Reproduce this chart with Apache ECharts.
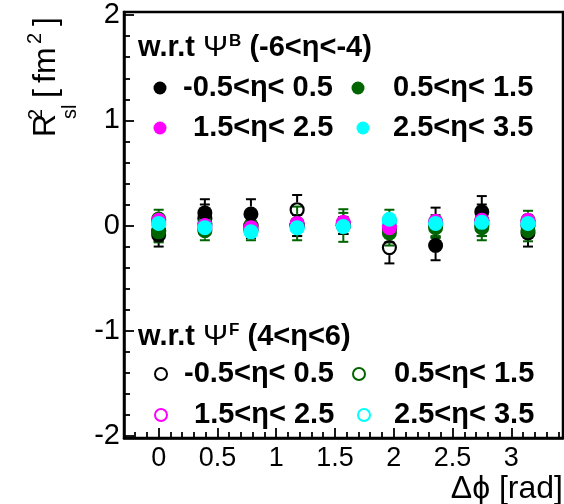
<!DOCTYPE html>
<html>
<head>
<meta charset="utf-8">
<script src="https://cdn.jsdelivr.net/npm/echarts@6/dist/echarts.min.js"></script>
<style>
  html, body { margin: 0; padding: 0; background: #ffffff; }
  #chart { width: 564px; height: 504px; }
</style>
</head>
<body>
<div id="chart"></div>
<script>
// Azimuthal bins (rad)
const dphi = [0, 0.393, 0.785, 1.178, 1.571, 1.963, 2.356, 2.749, 3.142];

// Pseudorapidity bin labels and colours
const etaBins = ['-0.5<η< 0.5', '0.5<η< 1.5', '1.5<η< 2.5', '2.5<η< 3.5'];
const etaColors = ['#000000', '#006400', '#ff00ff', '#00ffff'];

// R²_sl w.r.t. Psi^B (-6<eta<-4): filled markers
const psiB_eta0     = [-0.09, 0.12, 0.11, 0.00, 0.00, -0.04, -0.19, 0.13, -0.07];
const psiB_eta0_err = [0.11, 0.13, 0.14, 0.10, 0.08, 0.12, 0.14, 0.15, 0.13];
const psiB_eta1     = [-0.06, -0.05, -0.04, 0.02, 0.00, -0.07, -0.02, -0.02, -0.05];
const psiB_eta1_err = [0.10, 0.09, 0.10, 0.16, 0.155, 0.12, 0.10, 0.12, 0.10];
const psiB_eta2     = [0.05, 0.00, -0.02, 0.02, 0.03, -0.02, 0.04, 0.05, 0.05];
const psiB_eta2_err = [0.05, 0.06, 0.05, 0.06, 0.05, 0.06, 0.05, 0.06, 0.05];
const psiB_eta3     = [0.02, -0.02, -0.06, -0.02, -0.01, 0.06, 0.02, 0.03, 0.02];
const psiB_eta3_err = [0.04, 0.05, 0.05, 0.05, 0.04, 0.05, 0.05, 0.05, 0.04];

// R²_sl w.r.t. Psi^F (4<eta<6): open markers
const psiF_eta0     = [-0.05, 0.07, 0.00, 0.15, 0.00, -0.21, 0.03, 0.05, 0.00];
const psiF_eta0_err = [0.10, 0.13, 0.12, 0.14, 0.08, 0.15, 0.14, 0.15, 0.10];
const psiF_eta1     = [0.06, 0.02, 0.00, 0.00, 0.02, 0.05, 0.00, 0.00, 0.05];
const psiF_eta1_err = [0.09, 0.10, 0.10, 0.10, 0.10, 0.10, 0.10, 0.10, 0.09];
const psiF_eta2     = [0.03, -0.03, -0.04, 0.00, 0.02, 0.00, 0.02, 0.03, 0.03];
const psiF_eta2_err = [0.05, 0.05, 0.05, 0.05, 0.05, 0.05, 0.05, 0.05, 0.05];
const psiF_eta3     = [0.01, 0.00, -0.05, -0.02, 0.00, 0.03, 0.03, 0.02, 0.01];
const psiF_eta3_err = [0.05, 0.05, 0.05, 0.05, 0.05, 0.05, 0.05, 0.05, 0.05];

// Axis ticks
const xMajorTicks = [0, 0.5, 1, 1.5, 2, 2.5, 3];
const xTickLabels = ['0', '0.5', '1', '1.5', '2', '2.5', '3'];
const yMajorTicks = [-2, -1, 0, 1, 2];
const yTickLabels = ['-2', '-1', '0', '1', '2'];
const xMinorTicks = [];
for (let k = -2; k <= 34; k++) if (k % 5 !== 0) xMinorTicks.push(k / 10);
const yMinorTicks = [];
for (let k = -10; k <= 10; k++) if (k % 5 !== 0) yMinorTicks.push(k / 5);

const FONT = '"Liberation Sans", Arial, Helvetica, sans-serif';
const X_MIN = -0.295, X_MAX = 3.44, Y_MIN = -2.02, Y_MAX = 2.03;
const MARKER = 15, RING = 13, MARKER_R = 7.5;
const GRID = { left: 124, right: 1, top: 12, bottom: 66 };
const PLOT_W = 564 - GRID.left - GRID.right;
const PLOT_H = 504 - GRID.top - GRID.bottom;

const sets = [
  { id: 'F0', vals: psiF_eta0, errs: psiF_eta0_err, color: etaColors[0], open: true },
  { id: 'F1', vals: psiF_eta1, errs: psiF_eta1_err, color: etaColors[1], open: true },
  { id: 'F2', vals: psiF_eta2, errs: psiF_eta2_err, color: etaColors[2], open: true },
  { id: 'F3', vals: psiF_eta3, errs: psiF_eta3_err, color: etaColors[3], open: true },
  { id: 'B0', vals: psiB_eta0, errs: psiB_eta0_err, color: etaColors[0], open: false },
  { id: 'B1', vals: psiB_eta1, errs: psiB_eta1_err, color: etaColors[1], open: false },
  { id: 'B2', vals: psiB_eta2, errs: psiB_eta2_err, color: etaColors[2], open: false },
  { id: 'B3', vals: psiB_eta3, errs: psiB_eta3_err, color: etaColors[3], open: false }
];

function errorBars(set) {
  return {
    type: 'custom',
    name: set.id + '-err',
    xAxisIndex: 0, yAxisIndex: 0,
    silent: true,
    data: dphi.map((x, i) => [x, set.vals[i] - set.errs[i], set.vals[i] + set.errs[i], set.vals[i]]),
    renderItem(params, api) {
      const x = api.value(0);
      const lo = api.coord([x, api.value(1)]);
      const hi = api.coord([x, api.value(2)]);
      const mid = api.coord([x, api.value(3)]);
      const st = { stroke: set.color, lineWidth: 2 };
      const cap = 5;
      const kids = [];
      if (mid[1] - hi[1] > MARKER_R) {
        kids.push({ type: 'line', shape: { x1: hi[0], y1: hi[1], x2: hi[0], y2: mid[1] - MARKER_R }, style: st });
        kids.push({ type: 'line', shape: { x1: hi[0] - cap, y1: hi[1], x2: hi[0] + cap, y2: hi[1] }, style: st });
      }
      if (lo[1] - mid[1] > MARKER_R) {
        kids.push({ type: 'line', shape: { x1: lo[0], y1: mid[1] + MARKER_R, x2: lo[0], y2: lo[1] }, style: st });
        kids.push({ type: 'line', shape: { x1: lo[0] - cap, y1: lo[1], x2: lo[0] + cap, y2: lo[1] }, style: st });
      }
      return { type: 'group', children: kids };
    }
  };
}

function markers(set) {
  return {
    type: 'scatter',
    name: set.id,
    xAxisIndex: 0, yAxisIndex: 0,
    symbol: 'circle',
    symbolSize: set.open ? RING : MARKER,
    itemStyle: set.open
      ? { color: 'rgba(0,0,0,0)', borderColor: set.color, borderWidth: 2.2, opacity: 1 }
      : { color: set.color, opacity: 1 },
    emphasis: { disabled: true },
    data: dphi.map((x, i) => [x, set.vals[i]])
  };
}

const series = [];
sets.forEach(s => { series.push(errorBars(s)); series.push(markers(s)); });

// One legend block per entry so that each sits in its own column/row
function legendEntry(id, label, left, top, pad, open) {
  const size = open ? 12 : 13;
  return {
    data: [id],
    left: left, top: top,
    padding: 0,
    itemWidth: size,
    itemHeight: size,
    selectedMode: false,
    formatter: () => label,
    textStyle: { fontFamily: FONT, fontWeight: 'bold', fontSize: 29, color: '#000', lineHeight: 30, padding: [0, 0, 0, pad] }
  };
}

const legends = [
  legendEntry('B0', etaBins[0], 153.5, 73, 11.5, false),
  legendEntry('B1', etaBins[1], 351.5, 73, 23.5, false),
  legendEntry('B2', etaBins[2], 153.5, 113, 21.5, false),
  legendEntry('B3', etaBins[3], 356.5, 113, 18.5, false),
  legendEntry('F0', etaBins[0], 154, 359, 12, true),
  legendEntry('F1', etaBins[1], 352, 359, 24, true),
  legendEntry('F2', etaBins[2], 154, 400, 22, true),
  legendEntry('F3', etaBins[3], 357, 400, 19, true)
];

const headerRich = {
  b: { fontFamily: FONT, fontWeight: 'bold', fontSize: 29, lineHeight: 30, color: '#000' },
  g: { fontFamily: FONT, fontSize: 30, lineHeight: 30, color: '#000' },
  s: { fontFamily: FONT, fontWeight: 'bold', fontSize: 17, lineHeight: 17, padding: [0, 0, 14, 1], color: '#000' }
};

function rotText(text, x, y, size) {
  return { type: 'text', x: x, y: y, rotation: Math.PI / 2, silent: true,
    style: { text: text, font: size + 'px ' + FONT, fill: '#000', align: 'left', verticalAlign: 'middle' } };
}

const chart = echarts.init(document.getElementById('chart'), null, { renderer: 'canvas' });
chart.setOption({
  animation: false,
  backgroundColor: '#ffffff',
  grid: Object.assign({ show: true, borderColor: '#000', borderWidth: 2.5, backgroundColor: 'transparent' }, GRID),
  legend: legends,
  xAxis: [
    {
      type: 'value', min: X_MIN, max: X_MAX, position: 'bottom',
      axisLine: { show: true, onZero: false, lineStyle: { color: '#000', width: 2.5 } },
      axisTick: { show: true, inside: true, length: 10, customValues: xMajorTicks, lineStyle: { color: '#000', width: 1.8 } },
      axisLabel: {
        show: true, customValues: xMajorTicks, margin: 7,
        formatter: v => xTickLabels[xMajorTicks.indexOf(v)] ?? '',
        fontFamily: FONT, fontSize: 27, color: '#000'
      },
      splitLine: { show: false }
    },
    // minor ticks: a top axis shifted down onto the bottom edge, ticks pointing up
    {
      type: 'value', min: X_MIN, max: X_MAX, position: 'top', offset: -PLOT_H,
      axisLine: { show: false, onZero: false },
      axisTick: { show: true, inside: false, length: 6, customValues: xMinorTicks, lineStyle: { color: '#000', width: 1.8 } },
      axisLabel: { show: false },
      splitLine: { show: false }
    }
  ],
  yAxis: [
    {
      type: 'value', min: Y_MIN, max: Y_MAX, position: 'left',
      axisLine: { show: true, onZero: false, lineStyle: { color: '#000', width: 2.5 } },
      axisTick: { show: true, inside: true, length: 10, customValues: yMajorTicks, lineStyle: { color: '#000', width: 1.8 } },
      axisLabel: {
        show: true, customValues: yMajorTicks, margin: 4,
        formatter: v => yTickLabels[yMajorTicks.indexOf(v)] ?? '',
        fontFamily: FONT, fontSize: 29, color: '#000'
      },
      splitLine: { show: false }
    },
    // minor ticks: a right axis shifted onto the left edge, ticks pointing right
    {
      type: 'value', min: Y_MIN, max: Y_MAX, position: 'right', offset: -PLOT_W,
      axisLine: { show: false, onZero: false },
      axisTick: { show: true, inside: false, length: 6, customValues: yMinorTicks, lineStyle: { color: '#000', width: 1.8 } },
      axisLabel: { show: false },
      splitLine: { show: false }
    }
  ],
  graphic: [
    // legend headers
    { type: 'text', x: 138, y: 48, silent: true,
      style: { text: '{b|w.r.t }{g|Ψ}{s|B}{b| (-6<η<-4)}', rich: headerRich, verticalAlign: 'middle', align: 'left' } },
    { type: 'text', x: 138, y: 337, silent: true,
      style: { text: '{b|w.r.t }{g|Ψ}{s|F}{b| (4<η<6)}', rich: headerRich, verticalAlign: 'middle', align: 'left' } },
    // y-axis title: R^2_sl [fm^2]
    rotText('R', 46, 137, 32),
    rotText('2', 36, 120, 20),
    rotText('sl', 70, 119, 20),
    rotText('[', 46, 98, 32),
    rotText('fm', 46, 83, 32),
    rotText('2', 35, 44, 20),
    rotText(']', 46, 26, 32),
    // x-axis title
    { type: 'text', x: 563, y: 489, silent: true,
      style: { text: 'Δϕ [rad]', font: '32px ' + FONT, fill: '#000', align: 'right', verticalAlign: 'middle' } }
  ],
  series: series
});
</script>
</body>
</html>
